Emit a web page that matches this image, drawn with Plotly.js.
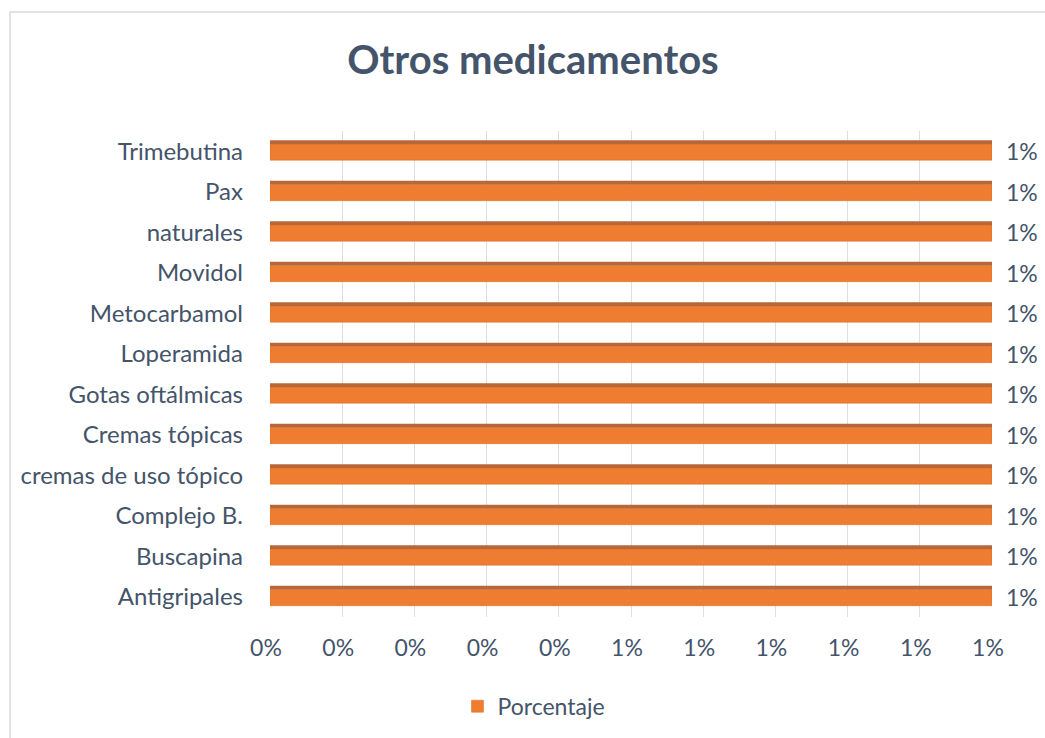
<!DOCTYPE html>
<html>
<head>
<meta charset="utf-8">
<script src="https://cdn.plot.ly/plotly-3.0.1.min.js"></script>
<style>html,body{margin:0;padding:0;background:#fff;}#chart{width:1045px;height:738px;}</style>
</head>
<body>
<div id="chart"></div>
<script>
var categories = ["Antigripales", "Buscapina", "Complejo B.", "cremas de uso tópico", "Cremas tópicas", "Gotas oftálmicas", "Loperamida", "Metocarbamol", "Movidol", "naturales", "Pax", "Trimebutina"];
var porcentaje = [0.01, 0.01, 0.01, 0.01, 0.01, 0.01, 0.01, 0.01, 0.01, 0.01, 0.01, 0.01];
var tickValues = [0, 0.001, 0.002, 0.003, 0.004, 0.005, 0.006, 0.007, 0.008, 0.009, 0.01];
var tickLabels = ["0%", "0%", "0%", "0%", "0%", "1%", "1%", "1%", "1%", "1%", "1%"];

var FONT = "Lato, 'Open Sans', sans-serif";
var TXT = "#44546A";

var main = {
  type: "bar", orientation: "h", name: "Porcentaje",
  x: porcentaje, y: categories,
  width: 0.4, offset: -0.22,
  marker: {color: "#EF7D31", line: {color: "#D8691F", width: 0.5}},
  hoverinfo: "x+y"
};
var topFace = {
  type: "bar", orientation: "h", name: "top", showlegend: false,
  x: porcentaje, y: categories,
  width: 0.09, offset: 0.18,
  marker: {color: "#B7673A", line: {width: 0}},
  hoverinfo: "skip"
};

var annotations = categories.map(function (c, i) {
  return {x: porcentaje[i], y: c, xref: "x", yref: "y", xanchor: "left", xshift: 12,
    text: Math.round(porcentaje[i] * 100) + "%", showarrow: false,
    font: {family: FONT, size: 23, color: TXT}};
});

var layout = {
  width: 1045, height: 738,
  margin: {l: 270, r: 53, t: 131, b: 121},
  paper_bgcolor: "#fff", plot_bgcolor: "#fff",
  barmode: "overlay",
  font: {family: FONT, size: 23, color: TXT},
  title: {text: "<b>Otros medicamentos</b>", x: 0.51, xanchor: "center", y: 0.919, yanchor: "middle",
    font: {family: FONT, size: 40, color: TXT}},
  xaxis: {range: [0, 0.01], tickvals: tickValues, ticktext: tickLabels, showgrid: true,
    gridcolor: "#DCDFE5", gridwidth: 1, zeroline: false, showline: false, ticks: "",
    ticklabelstandoff: 15, ticklabelshift: -4, tickfont: {family: FONT, size: 23, color: TXT}},
  yaxis: {type: "category", categoryarray: categories, showgrid: false, zeroline: false, ticks: "",
    ticklabelstandoff: 26, tickfont: {family: FONT, size: 24, color: TXT}},
  showlegend: true,
  legend: {orientation: "h", xref: "container", yref: "container", x: 0.511, xanchor: "center",
    y: 0.043, yanchor: "middle", font: {family: FONT, size: 23, color: TXT}},
  annotations: annotations,
  shapes: [{type: "rect", xref: "paper", yref: "paper", x0: -0.36, x1: 1.2, y0: -0.5, y1: 1.245,
    line: {color: "#D9D9D9", width: 1.5}, fillcolor: "rgba(0,0,0,0)", layer: "below"}]
};

Plotly.newPlot("chart", [main, topFace], layout, {displayModeBar: false, staticPlot: true});
</script>
</body>
</html>
